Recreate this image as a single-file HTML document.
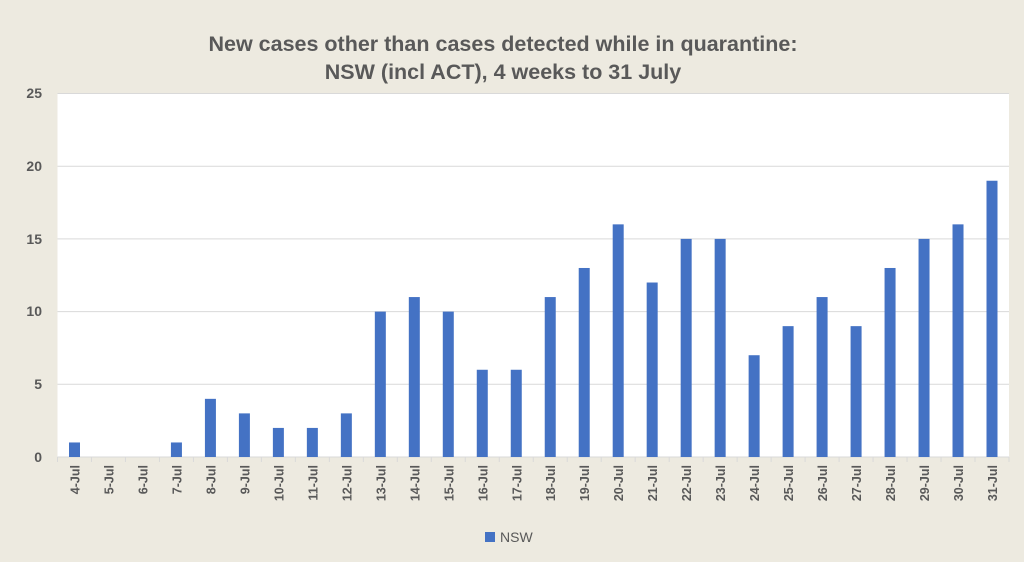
<!DOCTYPE html>
<html><head><meta charset="utf-8"><style>
body{margin:0;background:#edeae0;}
svg{display:block;font-family:"Liberation Sans",sans-serif;}
</style></head><body>
<svg width="1024" height="562" xmlns="http://www.w3.org/2000/svg">
<rect width="1024" height="562" fill="#edeae0"/>
<text x="503" y="51" text-anchor="middle" font-size="21.5" font-weight="bold" fill="#595959">New cases other than cases detected while in quarantine:</text>
<text x="503" y="79" text-anchor="middle" font-size="21.5" font-weight="bold" fill="#595959">NSW (incl ACT), 4 weeks to 31 July</text>
<rect x="57.5" y="93" width="951.5" height="363.5" fill="#fff"/>
<g stroke="#d9d9d9" stroke-width="1">
<line x1="57.5" x2="1009" y1="93.5" y2="93.5"/>
<line x1="57.5" x2="1009" y1="166.2" y2="166.2"/>
<line x1="57.5" x2="1009" y1="238.9" y2="238.9"/>
<line x1="57.5" x2="1009" y1="311.6" y2="311.6"/>
<line x1="57.5" x2="1009" y1="384.3" y2="384.3"/>
<line x1="57.5" x2="1009" y1="457" y2="457"/>
<g>
<line x1="57.5" x2="57.5" y1="457" y2="462"/><line x1="91.48" x2="91.48" y1="457" y2="462"/><line x1="125.46" x2="125.46" y1="457" y2="462"/><line x1="159.45" x2="159.45" y1="457" y2="462"/><line x1="193.43" x2="193.43" y1="457" y2="462"/><line x1="227.41" x2="227.41" y1="457" y2="462"/><line x1="261.39" x2="261.39" y1="457" y2="462"/><line x1="295.37" x2="295.37" y1="457" y2="462"/><line x1="329.36" x2="329.36" y1="457" y2="462"/><line x1="363.34" x2="363.34" y1="457" y2="462"/><line x1="397.32" x2="397.32" y1="457" y2="462"/><line x1="431.3" x2="431.3" y1="457" y2="462"/><line x1="465.28" x2="465.28" y1="457" y2="462"/><line x1="499.27" x2="499.27" y1="457" y2="462"/><line x1="533.25" x2="533.25" y1="457" y2="462"/><line x1="567.23" x2="567.23" y1="457" y2="462"/><line x1="601.21" x2="601.21" y1="457" y2="462"/><line x1="635.19" x2="635.19" y1="457" y2="462"/><line x1="669.18" x2="669.18" y1="457" y2="462"/><line x1="703.16" x2="703.16" y1="457" y2="462"/><line x1="737.14" x2="737.14" y1="457" y2="462"/><line x1="771.12" x2="771.12" y1="457" y2="462"/><line x1="805.1" x2="805.1" y1="457" y2="462"/><line x1="839.09" x2="839.09" y1="457" y2="462"/><line x1="873.07" x2="873.07" y1="457" y2="462"/><line x1="907.05" x2="907.05" y1="457" y2="462"/><line x1="941.03" x2="941.03" y1="457" y2="462"/><line x1="975.01" x2="975.01" y1="457" y2="462"/><line x1="1009" x2="1009" y1="457" y2="462"/>
</g>
</g>
<g font-size="14" font-weight="bold" fill="#595959" text-anchor="end">
<text x="42" y="98">25</text><text x="42" y="171">20</text><text x="42" y="244">15</text><text x="42" y="316">10</text><text x="42" y="389">5</text><text x="42" y="462">0</text>
</g>
<g fill="#4472c4">
<rect x="69" y="442.46" width="11" height="14.54"/>
<rect x="170.93" y="442.46" width="11" height="14.54"/>
<rect x="204.92" y="398.84" width="11" height="58.16"/>
<rect x="238.9" y="413.38" width="11" height="43.62"/>
<rect x="272.88" y="427.92" width="11" height="29.08"/>
<rect x="306.86" y="427.92" width="11" height="29.08"/>
<rect x="340.85" y="413.38" width="11" height="43.62"/>
<rect x="374.83" y="311.6" width="11" height="145.4"/>
<rect x="408.81" y="297.06" width="11" height="159.94"/>
<rect x="442.79" y="311.6" width="11" height="145.4"/>
<rect x="476.77" y="369.76" width="11" height="87.24"/>
<rect x="510.76" y="369.76" width="11" height="87.24"/>
<rect x="544.74" y="297.06" width="11" height="159.94"/>
<rect x="578.72" y="267.98" width="11" height="189.02"/>
<rect x="612.7" y="224.36" width="11" height="232.64"/>
<rect x="646.68" y="282.52" width="11" height="174.48"/>
<rect x="680.67" y="238.9" width="11" height="218.1"/>
<rect x="714.65" y="238.9" width="11" height="218.1"/>
<rect x="748.63" y="355.22" width="11" height="101.78"/>
<rect x="782.61" y="326.14" width="11" height="130.86"/>
<rect x="816.59" y="297.06" width="11" height="159.94"/>
<rect x="850.58" y="326.14" width="11" height="130.86"/>
<rect x="884.56" y="267.98" width="11" height="189.02"/>
<rect x="918.54" y="238.9" width="11" height="218.1"/>
<rect x="952.52" y="224.36" width="11" height="232.64"/>
<rect x="986.5" y="180.74" width="11" height="276.26"/>
</g>
<g font-size="12.5" font-weight="bold" fill="#595959" text-anchor="end">
<text transform="translate(79.5,465) rotate(-90)">4-Jul</text>
<text transform="translate(113.5,465) rotate(-90)">5-Jul</text>
<text transform="translate(147.45,465) rotate(-90)">6-Jul</text>
<text transform="translate(181.43,465) rotate(-90)">7-Jul</text>
<text transform="translate(215.42,465) rotate(-90)">8-Jul</text>
<text transform="translate(249.4,465) rotate(-90)">9-Jul</text>
<text transform="translate(283.38,465) rotate(-90)">10-Jul</text>
<text transform="translate(317.36,465) rotate(-90)">11-Jul</text>
<text transform="translate(351.35,465) rotate(-90)">12-Jul</text>
<text transform="translate(385.33,465) rotate(-90)">13-Jul</text>
<text transform="translate(419.31,465) rotate(-90)">14-Jul</text>
<text transform="translate(453.29,465) rotate(-90)">15-Jul</text>
<text transform="translate(487.27,465) rotate(-90)">16-Jul</text>
<text transform="translate(521.26,465) rotate(-90)">17-Jul</text>
<text transform="translate(555.24,465) rotate(-90)">18-Jul</text>
<text transform="translate(589.22,465) rotate(-90)">19-Jul</text>
<text transform="translate(623.2,465) rotate(-90)">20-Jul</text>
<text transform="translate(657.18,465) rotate(-90)">21-Jul</text>
<text transform="translate(691.17,465) rotate(-90)">22-Jul</text>
<text transform="translate(725.15,465) rotate(-90)">23-Jul</text>
<text transform="translate(759.13,465) rotate(-90)">24-Jul</text>
<text transform="translate(793.11,465) rotate(-90)">25-Jul</text>
<text transform="translate(827.09,465) rotate(-90)">26-Jul</text>
<text transform="translate(861.08,465) rotate(-90)">27-Jul</text>
<text transform="translate(895.06,465) rotate(-90)">28-Jul</text>
<text transform="translate(929.04,465) rotate(-90)">29-Jul</text>
<text transform="translate(963.02,465) rotate(-90)">30-Jul</text>
<text transform="translate(997,465) rotate(-90)">31-Jul</text>
</g>
<rect x="485" y="532" width="10" height="10" fill="#4472c4"/>
<text x="500" y="542" font-size="14" fill="#595959">NSW</text>
</svg>
</body></html>
